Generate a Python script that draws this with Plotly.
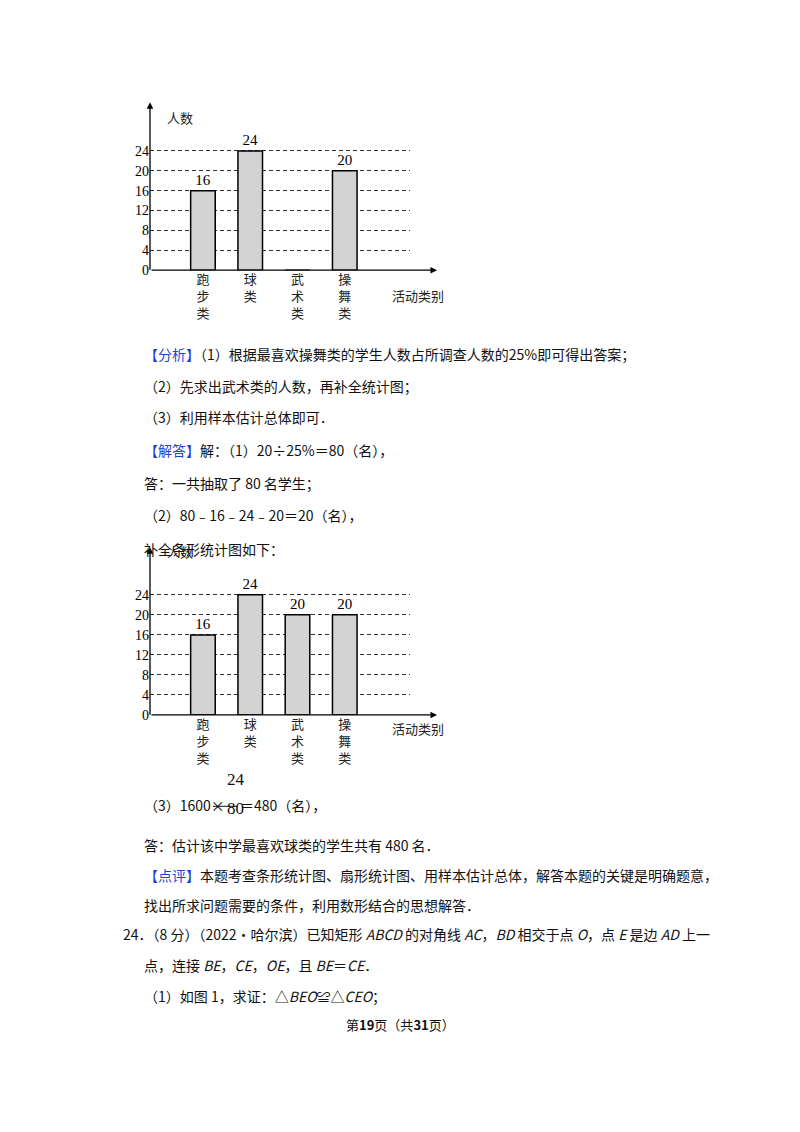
import plotly.graph_objects as go

W, H = 800, 1132

categories = ["跑<br>步<br>类", "球<br>类", "武<br>术<br>类", "操<br>舞<br>类"]
counts_before = [16, 24, None, 20]
counts_after = [16, 24, 20, 20]
y_ticks = [0, 4, 8, 12, 16, 20, 24]

CJK = "Noto Sans CJK SC"
SERIF = "Liberation Serif"

# the page sits inside the body margin
OX, OY = 8, 7


def px(x):
    return (x - OX) / W


def py(y):
    return 1 - (y - OY) / H


fig = go.Figure()

# two charts: (axis suffix, values, pixel y of zero, pixel y of 24, pixel y of top)
charts = [("", counts_before, 271, 151, 110), ("2", counts_after, 719, 598, 558)]

for suffix, vals, y0, y24, ytop in charts:
    xa = "x" + suffix
    ya = "y" + suffix
    texts = ["" if v is None else str(v) for v in vals]
    fig.add_trace(go.Bar(
        x=list(range(len(categories))), y=[0 if v is None else v for v in vals],
        text=texts, textposition="outside", cliponaxis=False,
        textfont=dict(family=SERIF, size=15, color="black"),
        marker=dict(color="#d3d3d3", line=dict(color="black", width=1.5)),
        width=0.52, xaxis=xa, yaxis=ya, showlegend=False,
    ))
    ymax = 24 * (y0 - ytop) / (y0 - y24)
    fig.layout["xaxis" + suffix] = dict(
        domain=[px(150), px(410)], range=[-1.12, 4.38],
        tickvals=list(range(len(categories))), ticktext=categories,
        tickfont=dict(family=CJK, size=13, color="#222"),
        showgrid=False, zeroline=False, showline=False, ticks="",
        anchor=ya,
    )
    fig.layout["yaxis" + suffix] = dict(
        domain=[py(y0), py(ytop)], range=[0, ymax],
        tickvals=y_ticks, tickfont=dict(family=SERIF, size=14, color="black"),
        showgrid=True, gridcolor="#333", griddash="4px,3px", gridwidth=1,
        zeroline=False, showline=False, ticks="", anchor=xa,
    )
    # axis arrows
    fig.add_annotation(x=px(150), y=py(ytop - 8), xref="paper", yref="paper",
                       ax=0, ay=(y0 - ytop + 8), showarrow=True, arrowhead=2,
                       arrowsize=1, arrowwidth=1.3, arrowcolor="black", text="")
    fig.add_annotation(x=px(437), y=py(y0), xref="paper", yref="paper",
                       ax=-(437 - 150), ay=0, showarrow=True, arrowhead=2,
                       arrowsize=1, arrowwidth=1.3, arrowcolor="black", text="")
    fig.add_annotation(x=px(165), y=py(ytop - 4), xref="paper", yref="paper",
                       text="人数", showarrow=False, xanchor="left",
                       font=dict(family=CJK, size=13, color="#222"))
    fig.add_annotation(x=px(390), y=py(y0 + 14), xref="paper", yref="paper",
                       text="活动类别", showarrow=False, xanchor="left",
                       font=dict(family=CJK, size=13, color="#222"))

BLUE = "#1f3fd6"
lines = [
    (142, 355, f"<span style='color:{BLUE}'>【分析】</span>（1）根据最喜欢操舞类的学生人数占所调查人数的25%即可得出答案；"),
    (142, 388, "（2）先求出武术类的人数，再补全统计图；"),
    (142, 419, "（3）利用样本估计总体即可．"),
    (142, 452, f"<span style='color:{BLUE}'>【解答】</span>解：（1）20÷25%＝80（名），"),
    (142, 485, "答：一共抽取了 80 名学生；"),
    (142, 518, "（2）80﹣16﹣24﹣20＝20（名），"),
    (142, 552, "补全条形统计图如下："),
    (142, 810, "（3）1600×"),
    (238, 810, "＝480（名），"),
    (142, 850, "答：估计该中学最喜欢球类的学生共有 480 名．"),
    (142, 880, f"<span style='color:{BLUE}'>【点评】</span>本题考查条形统计图、扇形统计图、用样本估计总体，解答本题的关键是明确题意，"),
    (142, 910, "找出所求问题需要的条件，利用数形结合的思想解答．"),
    (121, 940, "24．（8 分）（2022•哈尔滨）已知矩形 <i>ABCD</i> 的对角线 <i>AC</i>，<i>BD</i> 相交于点 <i>O</i>，点 <i>E</i> 是边 <i>AD</i> 上一"),
    (142, 971, "点，连接 <i>BE</i>，<i>CE</i>，<i>OE</i>，且 <i>BE</i>＝<i>CE</i>．"),
    (142, 1002, "（1）如图 1，求证：△<i>BEO</i>≌△<i>CEO</i>；"),
]
for x, y, t in lines:
    fig.add_annotation(x=px(x), y=py(y), xref="paper", yref="paper", text=t,
                       showarrow=False, xanchor="left", yanchor="middle",
                       font=dict(family=CJK, size=14, color="#111"))

# fraction 24/80
fig.add_annotation(x=px(225), y=py(796), xref="paper", yref="paper", text="24",
                   showarrow=False, font=dict(family=SERIF, size=17, color="#111"))
fig.add_annotation(x=px(225), y=py(825), xref="paper", yref="paper", text="80",
                   showarrow=False, font=dict(family=SERIF, size=17, color="#111"))
fig.add_shape(type="line", xref="paper", yref="paper", x0=px(213), x1=px(237),
              y0=py(811), y1=py(811), line=dict(color="#111", width=1))

fig.add_annotation(x=px(400), y=py(1042), xref="paper", yref="paper",
                   text="第<b>19</b>页（共<b>31</b>页）", showarrow=False,
                   font=dict(family=CJK, size=13, color="#111"))

fig.update_layout(width=W, height=H, margin=dict(l=0, r=0, t=0, b=0),
                  paper_bgcolor="white", plot_bgcolor="white")
fig.write_html("out.html")
